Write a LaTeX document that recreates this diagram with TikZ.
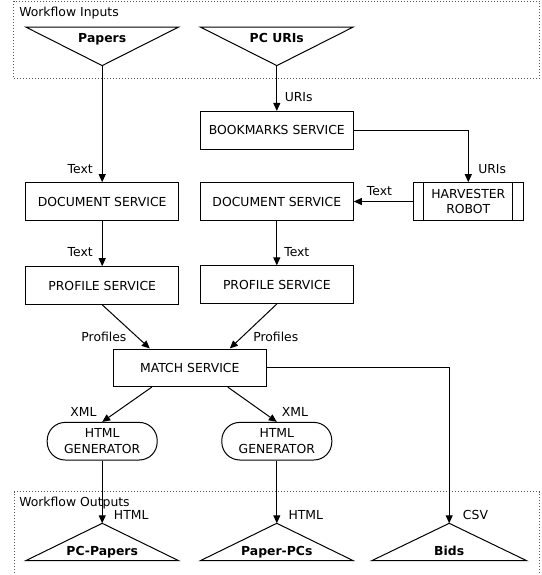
\documentclass[tikz,border=0pt]{standalone}
\usepackage{fontspec}
\setmainfont{DejaVu Sans}
\usetikzlibrary{arrows.meta,calc}
\newdimen\pu \pu=0.75pt

\begin{document}
\begin{tikzpicture}[x=0.75pt,y=-0.75pt,
  font=\fontsize{9.3}{11.6}\selectfont,
  svc/.style={draw, line width=0.75pt, minimum width=153\pu, minimum height=37.6\pu,
              inner sep=0pt, align=center},
  gen/.style={svc, minimum width=110\pu, rounded corners=13.5pt},
  robot/.style={svc, minimum width=110\pu},
  flow/.style={line width=0.75pt, -{Triangle[length=6pt,width=5.25pt]}},
  lbl/.style={inner sep=0pt, text height=6.8pt, text depth=0pt},
  grp/.style={draw=black!65, line width=0.75pt, dash pattern=on 0.75pt off 1.5pt},
  term/.style={line width=0.75pt},
  ttl/.style={lbl, font=\fontsize{9.3}{11}\selectfont\bfseries}
]
\useasboundingbox (0,0) rectangle (542,575);

% dotted group frames
\draw[grp] (13.5,1) rectangle (539.3,78.7);
\node[lbl, anchor=west] (inlbl) at (19,12) {Workflow Inputs};
\draw[grp] (14.3,585) |- (539.3,491.7) -- (539.3,585);
\node[lbl, anchor=west] (outlbl) at (19,501.7) {Workflow Outputs};

% input terminals
\draw[term] (25.7,27) -- (178.7,27) -- (102.2,65.6) -- cycle;
\node[ttl] (papers) at (102.2,38) {Papers};
\coordinate (papersTip) at (102.2,65.6);
\draw[term] (200.3,27) -- (353.3,27) -- (276.8,65.6) -- cycle;
\node[ttl] (pcuris) at (276.8,38) {PC URIs};
\coordinate (pcTip) at (276.8,65.6);

% output terminals
\draw[term] (25.7,560.7) -- (178.7,560.7) -- (102.2,523.3) -- cycle;
\node[ttl] (pcpapers) at (102.2,550.7) {PC-Papers};
\coordinate (pcpTip) at (102.2,523.3);
\draw[term] (200.3,560.7) -- (353.3,560.7) -- (276.8,523.3) -- cycle;
\node[ttl] (paperpcs) at (276.8,550.7) {Paper-PCs};
\coordinate (ppcTip) at (276.8,523.3);
\draw[term] (371.7,560.7) -- (526.7,560.7) -- (449.2,523.3) -- cycle;
\node[ttl] (bids) at (449.2,550.7) {Bids};
\coordinate (bidsTip) at (449.2,523.3);

% services
\node[svc] (bm) at (276.8,130.2) {BOOKMARKS SERVICE};
\node[robot] (harv) at (468.3,201.5) {HARVESTER\\ROBOT};
\draw[line width=0.75pt] ($(harv.north west)+(11,0)$) -- ($(harv.south west)+(11,0)$)
                         ($(harv.north east)+(-11,0)$) -- ($(harv.south east)+(-11,0)$);
\node[svc] (doc1) at (102.2,201.5) {DOCUMENT SERVICE};
\node[svc] (doc2) at (276.8,201.5) {DOCUMENT SERVICE};
\node[svc] (prof1) at (102.2,285.5) {PROFILE SERVICE};
\node[svc] (prof2) at (276.8,284.7) {PROFILE SERVICE};
\node[svc] (match) at (189.8,367.8) {MATCH SERVICE};
\node[gen] (gen1) at (102.2,441.2) {HTML\\GENERATOR};
\node[gen] (gen2) at (276.8,441.2) {HTML\\GENERATOR};

% data flows
\draw[flow] (papersTip) -- (doc1.north);
\draw[flow] (pcTip) -- (bm.north);
\draw[flow] (bm.east) -| (harv.north);
\draw[flow] (harv.west) -- (doc2.east);
\draw[flow] (doc1.south) -- (prof1.north);
\draw[flow] (doc2.south) -- (prof2.north);
\draw[flow] (prof1.south) -- ($(match.north)+(-40,0)$);
\draw[flow] (prof2.south) -- ($(match.north)+(40,0)$);
\draw[flow] (match.east) -| (bidsTip);
\draw[flow] ($(match.south)+(-38,0)$) -- (gen1.north);
\draw[flow] ($(match.south)+(38,0)$) -- (gen2.north);
\draw[flow] (gen1.south) -- (pcpTip);
\draw[flow] (gen2.south) -- (ppcTip);

% flow labels
\node[lbl, anchor=east] (t1) at (93,169.3) {Text};
\node[lbl, anchor=west] (u1) at (284.5,97.4) {URIs};
\node[lbl, anchor=west] (u2) at (478,169.3) {URIs};
\node[lbl, anchor=west] (t2) at (366.7,190.7) {Text};
\node[lbl, anchor=east] (t3) at (93,252.3) {Text};
\node[lbl, anchor=west] (t4) at (284,252.3) {Text};
\node[lbl, anchor=east] (p1) at (126.7,337.3) {Profiles};
\node[lbl, anchor=west] (p2) at (253,337.3) {Profiles};
\node[lbl, anchor=east] (x1) at (96.7,411.7) {XML};
\node[lbl, anchor=west] (x2) at (281.7,411.7) {XML};
\node[lbl, anchor=west] (h1) at (113.7,515) {HTML};
\node[lbl, anchor=west] (h2) at (288.3,515) {HTML};
\node[lbl, anchor=west] (c1) at (462.7,515) {CSV};
\end{tikzpicture}
\end{document}
